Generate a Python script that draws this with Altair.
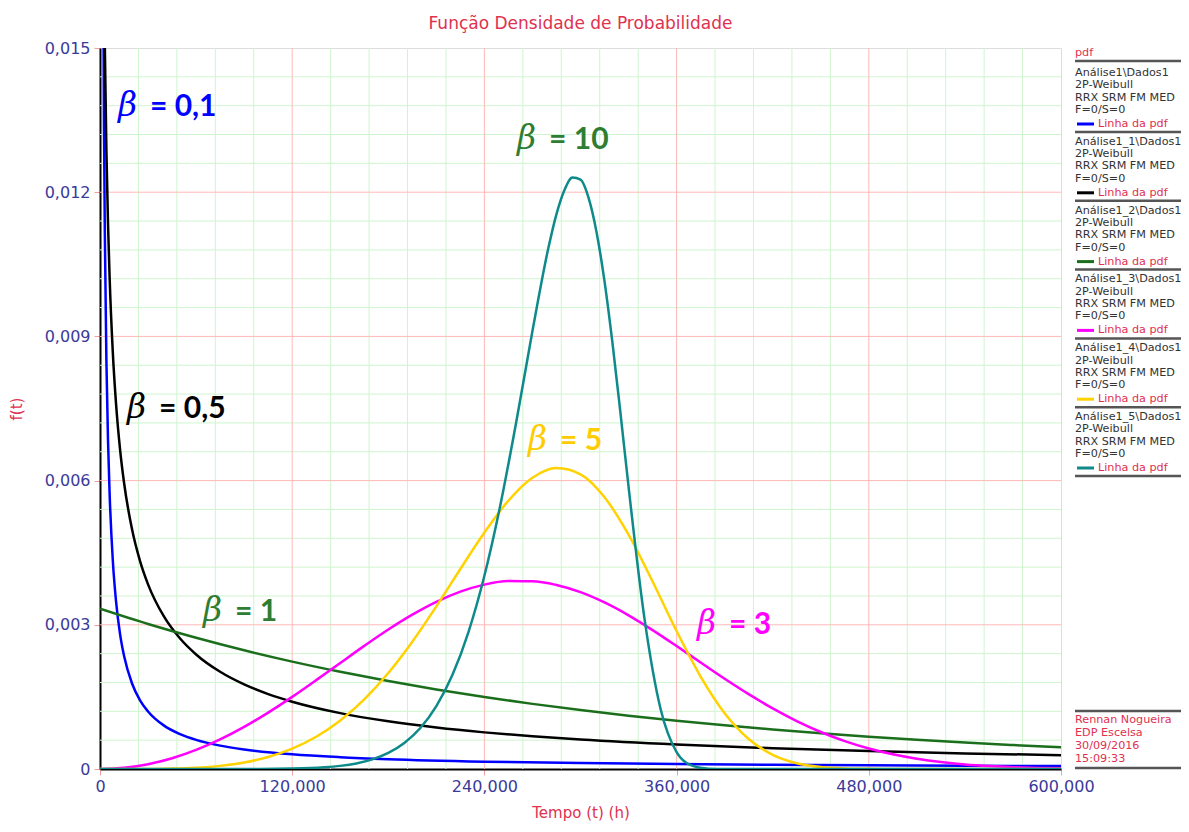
import altair as alt
import pandas as pd

TITLE = "Função Densidade de Probabilidade"
X_TITLE = "Tempo (t) (h)"
Y_TITLE = "f(t)"

# ---- curves (t in h, f(t)) ----
x_b01 = [2, 2.5, 3, 4, 5, 6, 8, 10, 12.5, 15, 20, 25, 30, 40, 50, 60, 75, 90, 120, 150, 180, 240, 300,
         360, 420, 480, 540, 600]
y_b01 = [0.016529, 0.013336, 0.011191, 0.008480, 0.006836, 0.005732, 0.004338, 0.003493, 0.002812,
         0.002355, 0.001779, 0.001430, 0.001197, 0.000902, 0.000725, 0.000606, 0.000486, 0.000406,
         0.000305, 0.000245, 0.000204, 0.000153, 0.000123, 0.000102, 0.0000875, 0.0000766, 0.0000680,
         0.0000612]

x_b05 = [2.5, 3, 4, 5, 6, 8, 10, 12.5, 15, 20, 25, 30, 40, 50, 60, 75, 90, 105, 120, 150, 180, 210, 240,
         270, 300, 360, 420, 480, 540, 600]
y_b05 = [0.016664, 0.015081, 0.012860, 0.011346, 0.010231, 0.008668, 0.007605, 0.006657, 0.005960,
         0.004986, 0.004326, 0.003842, 0.003168, 0.002714, 0.002383, 0.002022, 0.001760, 0.001559,
         0.001400, 0.001162, 0.000992, 0.000863, 0.000762, 0.000680, 0.000613, 0.000509, 0.000431,
         0.000372, 0.000325, 0.000287]

x_b1 = [0, 30, 60, 90, 120, 150, 180, 210, 240, 270, 300, 330, 360, 390, 420, 450, 480, 510, 540, 570, 600]
y_b1 = [0.003333, 0.003016, 0.002729, 0.002469, 0.002234, 0.002022, 0.001829, 0.001655, 0.001498,
        0.001355, 0.001226, 0.001110, 0.001004, 0.000908, 0.000822, 0.000744, 0.000673, 0.000609,
        0.000551, 0.000499, 0.000451]

x_b3 = [0, 15, 30, 45, 60, 75, 90, 105, 120, 135, 150, 165, 180, 195, 210, 225, 240, 255, 270, 285, 300,
        315, 330, 345, 360, 375, 390, 405, 420, 435, 450, 465, 480, 495, 510, 525, 540, 555, 570, 585, 600]
y_b3 = [0, 0.000025, 0.000100, 0.000224, 0.000397, 0.000615, 0.000876, 0.001174, 0.001501, 0.001849,
        0.002206, 0.002561, 0.002901, 0.003210, 0.003477, 0.003689, 0.003836, 0.003909, 0.003907,
        0.003829, 0.003679, 0.003464, 0.003197, 0.002890, 0.002558, 0.002216, 0.001878, 0.001557,
        0.001261, 0.000997, 0.000770, 0.000580, 0.000426, 0.000305, 0.000213, 0.000144, 0.000095,
        0.000061, 0.000038, 0.000023, 0.000013]

x_b5 = [0, 15, 30, 45, 60, 75, 90, 105, 120, 135, 150, 165, 180, 195, 210, 225, 240, 255, 270, 285, 300,
        315, 330, 345, 360, 375, 390, 405, 420, 435, 450, 465, 480, 495, 600]
y_b5 = [0, 0.0000001, 0.000002, 0.000008, 0.000027, 0.000065, 0.000135, 0.000249, 0.000422, 0.000671,
        0.001010, 0.001450, 0.001998, 0.002649, 0.003383, 0.004160, 0.004919, 0.005582, 0.006059,
        0.006262, 0.006131, 0.005654, 0.004875, 0.003901, 0.002870, 0.001924, 0.001162, 0.000625,
        0.000296, 0.000121, 0.000043, 0.000013, 0.000003, 0.0000006, 0]

x_b10 = [0, 100, 120, 140, 150, 160, 170, 180, 190, 200, 210, 220, 230, 240, 250, 260, 270, 280, 285, 290,
         295, 300, 305, 310, 315, 320, 325, 330, 340, 350, 360, 370, 380, 390, 400, 600]
y_b10 = [0, 0.0000017, 0.0000087, 0.000035, 0.000065, 0.000116, 0.000200, 0.000334, 0.000541, 0.000852,
         0.001308, 0.001955, 0.002844, 0.004019, 0.005497, 0.007240, 0.009113, 0.010848, 0.011544,
         0.012048, 0.012305, 0.012263, 0.011889, 0.011174, 0.010144, 0.008852, 0.007391, 0.005874,
         0.003117, 0.001249, 0.000352, 0.000064, 0.0000067, 0.0000004, 0, 0]

series_names = ["β = 0,1", "β = 0,5", "β = 1", "β = 3", "β = 5", "β = 10"]
series_x = [x_b01, x_b05, x_b1, x_b3, x_b5, x_b10]
series_y = [y_b01, y_b05, y_b1, y_b3, y_b5, y_b10]
series_colors = ["#0000FF", "#000000", "#1B6E1B", "#FF00FF", "#FFD200", "#0E8A8A"]

# annotation labels (beta values)
ann_num = ["= 0,1", "= 0,5", "= 1", "= 10", "= 5", "= 3"]
ann_x = [11.2, 16.9, 64.3, 260.4, 267.2, 372.7]
ann_y = [0.01358, 0.00730, 0.00308, 0.01290, 0.00664, 0.00281]
ann_color = ["#0000FF", "#000000", "#2E7D32", "#2E7D32", "#FFCC00", "#FF00FF"]

x_ticks = [0, 120, 240, 360, 480, 600]
y_ticks = [0, 0.003, 0.006, 0.009, 0.012, 0.015]
minor_x = [v for v in range(24, 600, 24) if v % 120 != 0]
major_x = [120, 240, 360, 480]
minor_y = [round(0.0006 * i, 4) for i in range(1, 25) if i % 5 != 0]
major_y = [0.003, 0.006, 0.009, 0.012]

legend_heads = ["Análise1\\Dados1", "Análise1_1\\Dados1", "Análise1_2\\Dados1",
                "Análise1_3\\Dados1", "Análise1_4\\Dados1", "Análise1_5\\Dados1"]
legend_sub = ["2P-Weibull", "RRX SRM FM MED", "F=0/S=0"]
legend_item = "Linha da pdf"
footer = ["Rennan Nogueira", "EDP Escelsa", "30/09/2016", "15:09:33"]

W, H = 961, 721
RED = "#E0314F"
LBL = "#3A3A9A"
FONT = "DejaVu Sans"

x_scale = alt.Scale(domain=[0, 600], nice=False, zero=False)
y_scale = alt.Scale(domain=[0, 0.015], nice=False)

X_AX = alt.Axis(title=X_TITLE, values=x_ticks,
                labelExpr="datum.value == 0 ? '0' : replace(format(datum.value, '.3f'), '.', ',')",
                grid=False, domainColor="black", domainWidth=2, tickColor="#F0A0A0", tickSize=6,
                labelColor=LBL, labelFont=FONT, labelFontSize=16, labelPadding=3, labelFlush=False,
                labelOverlap=False, titleColor=RED, titleFont=FONT, titleFontSize=15,
                titleFontWeight="normal", titlePadding=11)
Y_AX = alt.Axis(title=Y_TITLE, values=y_ticks,
                labelExpr="datum.value == 0 ? '0' : replace(format(datum.value, '.3f'), '.', ',')",
                grid=False, domainColor="black", domainWidth=2, tickColor="#F0A0A0", tickSize=6,
                labelColor=LBL, labelFont=FONT, labelFontSize=16, labelPadding=4, labelFlush=False,
                labelOverlap=False, titleColor=RED, titleFont=FONT, titleFontSize=15,
                titleFontWeight="normal", titlePadding=20)

def X(field):
    return alt.X(field, type="quantitative", scale=x_scale, axis=X_AX)

def Y(field):
    return alt.Y(field, type="quantitative", scale=y_scale, axis=Y_AX)

layers = []
# grid
layers.append(alt.Chart(pd.DataFrame({"v": minor_x})).mark_rule(color="#CFF5CF", strokeWidth=1).encode(x=X("v")))
layers.append(alt.Chart(pd.DataFrame({"v": minor_y})).mark_rule(color="#CFF5CF", strokeWidth=1).encode(y=Y("v")))
layers.append(alt.Chart(pd.DataFrame({"v": major_x})).mark_rule(color="#FFB8B8", strokeWidth=1).encode(x=X("v")))
layers.append(alt.Chart(pd.DataFrame({"v": major_y})).mark_rule(color="#FFB8B8", strokeWidth=1).encode(y=Y("v")))

# curves
for name, xs, ys, col in zip(series_names, series_x, series_y, series_colors):
    df = pd.DataFrame({"t": xs, "f": ys, "serie": name})
    layers.append(alt.Chart(df).mark_line(color=col, strokeWidth=2.5, clip=True, interpolate="monotone")
                  .encode(x=X("t"), y=Y("f"), order="t:Q"))

# beta annotations
ann = pd.DataFrame({"x": ann_x, "y": ann_y, "num": ann_num, "c": ann_color})
layers.append(alt.Chart(ann).mark_text(text="β", font="DejaVu Serif", fontStyle="italic", fontSize=33,
                                       align="left", baseline="alphabetic")
              .encode(x=X("x"), y=Y("y"), color=alt.Color("c:N", scale=None)))
layers.append(alt.Chart(ann).mark_text(font="Lato", fontWeight="bold", fontSize=30, align="left",
                                       baseline="alphabetic", dx=32)
              .encode(x=X("x"), y=Y("y"), text="num:N", color=alt.Color("c:N", scale=None)))

# legend panel (drawn right of plot area)
one = pd.DataFrame({"a": [0]})
LX = 975
LFS = 11.2

def ltext(txt, y, color="#333333", x=LX):
    return alt.Chart(one).mark_text(text=txt, font=FONT, fontSize=LFS, align="left", baseline="middle",
                                    color=color).encode(x=alt.value(x), y=alt.value(y))

def lrule(x1, x2, y, color="#555555", w=2.5):
    return alt.Chart(one).mark_rule(color=color, strokeWidth=w).encode(
        x=alt.value(x1), x2=alt.value(x2), y=alt.value(y))

layers.append(ltext("pdf", 5, RED))
layers.append(lrule(975, 1081, 13))
PITCH = 68.8
for i, head in enumerate(legend_heads):
    y0 = 25 + PITCH * i
    layers.append(ltext(head, y0))
    for k, s in enumerate(legend_sub):
        layers.append(ltext(s, y0 + 12.3 * (k + 1)))
    layers.append(lrule(977, 994, y0 + 51, series_colors[i], 3))
    layers.append(ltext(legend_item, y0 + 51, RED, 998))
    layers.append(lrule(975, 1081, y0 + 59))

layers.append(lrule(975, 1081, 663))
for k, s in enumerate(footer):
    layers.append(ltext(s, 672 + 13 * k, RED))
layers.append(lrule(975, 1081, 720))

chart = alt.layer(*layers).properties(
    width=W, height=H,
    title=alt.TitleParams(text=TITLE, color=RED, font=FONT, fontSize=17, fontWeight="normal",
                          anchor="middle", offset=7),
    padding={"left": 92, "top": 40, "right": 120, "bottom": 55},
    autosize=alt.AutoSizeParams(type="none"),
).configure_view(stroke="black", strokeWidth=1.5).configure(background="white")

chart.save("out.html", embed_options={"renderer": "svg", "actions": False})
